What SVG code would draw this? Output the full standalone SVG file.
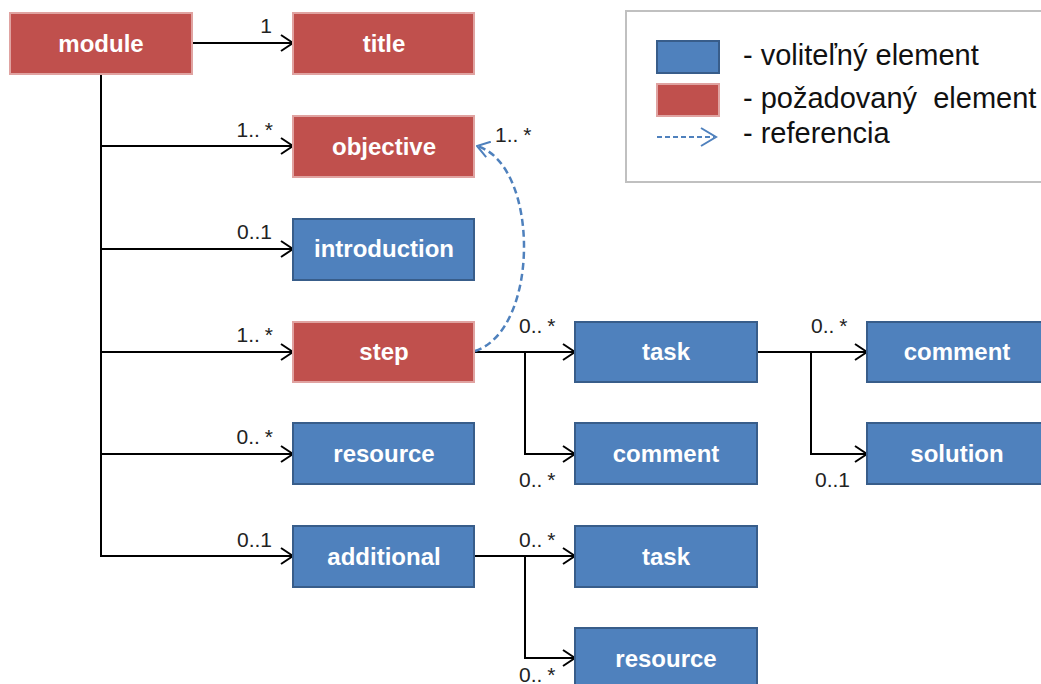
<svg xmlns="http://www.w3.org/2000/svg" width="1041" height="684" viewBox="0 0 1041 684">
<style>
.req{fill:#C0504D;stroke:#E0A3A1;stroke-width:2}
.opt{fill:#4F81BD;stroke:#385D8A;stroke-width:2}
.lbl{font-family:"Liberation Sans",Arial,sans-serif;font-weight:bold;font-size:24px;fill:#fff;text-anchor:middle}
.mul{font-family:"Liberation Sans",Arial,sans-serif;font-size:21px;fill:#222}
.end{text-anchor:end}
.leg{font-family:"Liberation Sans",Arial,sans-serif;font-size:29px;fill:#111}
.ln{fill:none;stroke:#000;stroke-width:2}
</style>
<defs>
<marker id="arr" viewBox="0 0 14 18" refX="13" refY="9" markerWidth="14" markerHeight="18" orient="auto" markerUnits="userSpaceOnUse">
<path d="M1,1 L13,9 L1,17" fill="none" stroke="#000" stroke-width="2"/>
</marker>
<marker id="barr" viewBox="0 0 14 18" refX="13" refY="9" markerWidth="14" markerHeight="18" orient="auto" markerUnits="userSpaceOnUse">
<path d="M1,1 L13,9 L1,17" fill="none" stroke="#4F81BD" stroke-width="2"/>
</marker>
</defs>
<rect width="1041" height="684" fill="#fff"/>

<g id="legend">
<rect x="626" y="11" width="420" height="171" fill="#fff" stroke="#c0c0c0" stroke-width="2"/>
<rect x="657" y="41" width="62" height="32" class="opt"/>
<rect x="657" y="84" width="62" height="32" class="req"/>
<line x1="657" y1="137" x2="714" y2="137" stroke="#4F81BD" stroke-width="2" stroke-dasharray="5,3"/>
<path d="M701,128 L716,137 L701,146" fill="none" stroke="#4F81BD" stroke-width="2"/>
<text class="leg" x="743" y="65">- voliteľný element</text>
<text class="leg" x="743" y="108" xml:space="preserve">- požadovaný  element</text>
<text class="leg" x="743" y="143">- referencia</text>
</g>

<g id="connectors">
<line class="ln" x1="193" y1="43" x2="293" y2="43" marker-end="url(#arr)"/>
<path class="ln" d="M101,74 V556"/>
<line class="ln" x1="101" y1="146" x2="293" y2="146" marker-end="url(#arr)"/>
<line class="ln" x1="101" y1="249" x2="293" y2="249" marker-end="url(#arr)"/>
<line class="ln" x1="101" y1="352" x2="293" y2="352" marker-end="url(#arr)"/>
<line class="ln" x1="101" y1="454" x2="293" y2="454" marker-end="url(#arr)"/>
<line class="ln" x1="100" y1="556" x2="293" y2="556" marker-end="url(#arr)"/>
<line class="ln" x1="474" y1="352" x2="575" y2="352" marker-end="url(#arr)"/>
<path class="ln" d="M525,352 V454 H575" marker-end="url(#arr)"/>
<line class="ln" x1="757" y1="352" x2="867" y2="352" marker-end="url(#arr)"/>
<path class="ln" d="M811,352 V454 H867" marker-end="url(#arr)"/>
<line class="ln" x1="474" y1="556" x2="575" y2="556" marker-end="url(#arr)"/>
<path class="ln" d="M525,556 V658 H575" marker-end="url(#arr)"/>
<path d="M475,351 C540,330 540,165 477,146" fill="none" stroke="#4F81BD" stroke-width="2.5" stroke-dasharray="7,4" marker-end="url(#barr)"/>
<text class="mul end" x="272" y="33">1</text>
<text class="mul end" x="273" y="137">1..<tspan dx="5">*</tspan></text>
<text class="mul end" x="272" y="239">0..1</text>
<text class="mul end" x="273" y="342">1..<tspan dx="5">*</tspan></text>
<text class="mul end" x="273" y="444">0..<tspan dx="5">*</tspan></text>
<text class="mul end" x="272" y="547">0..1</text>
<text class="mul" x="495" y="142">1..<tspan dx="5">*</tspan></text>
<text class="mul" x="519" y="333">0..<tspan dx="5">*</tspan></text>
<text class="mul" x="519" y="487">0..<tspan dx="5">*</tspan></text>
<text class="mul" x="811" y="333">0..<tspan dx="5">*</tspan></text>
<text class="mul" x="815" y="487">0..1</text>
<text class="mul" x="519" y="547">0..<tspan dx="5">*</tspan></text>
<text class="mul" x="519" y="682">0..<tspan dx="5">*</tspan></text>
</g>

<g id="module"><rect class="req" x="10" y="13" width="182" height="61"/><text class="lbl" x="101" y="52">module</text></g>
<g id="title"><rect class="req" x="293" y="13" width="181" height="61"/><text class="lbl" x="384" y="52">title</text></g>
<g id="objective"><rect class="req" x="293" y="116" width="181" height="61"/><text class="lbl" x="384" y="155">objective</text></g>
<g id="introduction"><rect class="opt" x="293" y="219" width="181" height="61"/><text class="lbl" x="384" y="257">introduction</text></g>
<g id="step"><rect class="req" x="293" y="322" width="181" height="60"/><text class="lbl" x="384" y="360">step</text></g>
<g id="resource"><rect class="opt" x="293" y="423" width="181" height="61"/><text class="lbl" x="384" y="462">resource</text></g>
<g id="additional"><rect class="opt" x="293" y="526" width="181" height="61"/><text class="lbl" x="384" y="565">additional</text></g>
<g id="step-task"><rect class="opt" x="575" y="322" width="182" height="60"/><text class="lbl" x="666" y="360">task</text></g>
<g id="step-comment"><rect class="opt" x="575" y="423" width="182" height="61"/><text class="lbl" x="666" y="462">comment</text></g>
<g id="task-comment"><rect class="opt" x="867" y="322" width="182" height="60"/><text class="lbl" x="957" y="360">comment</text></g>
<g id="task-solution"><rect class="opt" x="867" y="423" width="182" height="61"/><text class="lbl" x="957" y="462">solution</text></g>
<g id="additional-task"><rect class="opt" x="575" y="526" width="182" height="61"/><text class="lbl" x="666" y="565">task</text></g>
<g id="additional-resource"><rect class="opt" x="575" y="628" width="182" height="62"/><text class="lbl" x="666" y="667">resource</text></g>
</svg>
